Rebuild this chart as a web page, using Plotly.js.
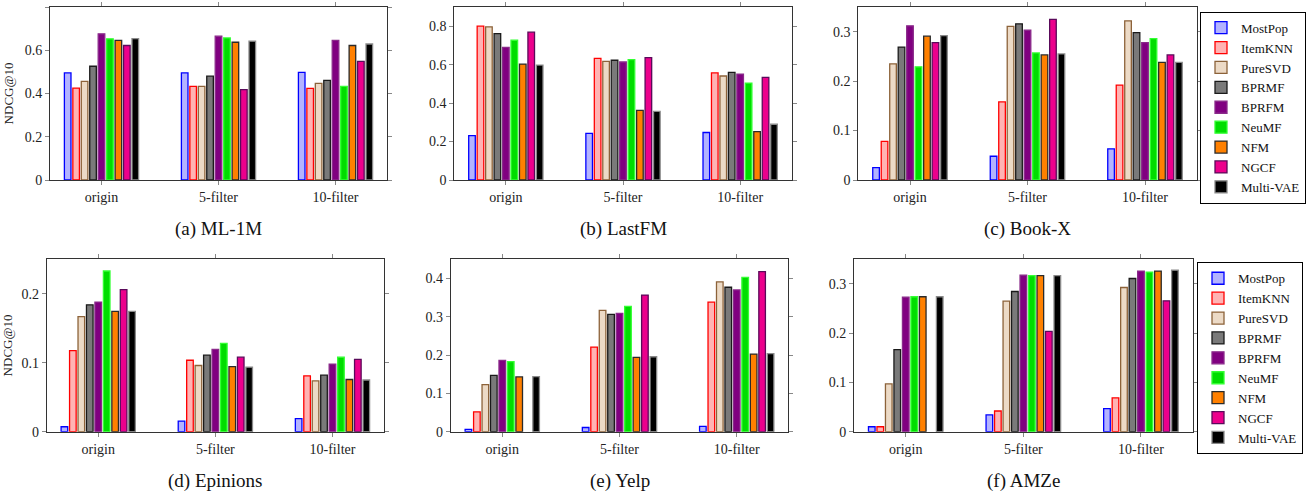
<!DOCTYPE html>
<html>
<head>
<meta charset="utf-8">
<script src="https://cdn.plot.ly/plotly-3.0.1.min.js"></script>
<style>html,body{margin:0;padding:0;background:#fff;}#chart{width:1316px;height:498px;}</style>
</head>
<body>
<div id="chart"></div>
<script>
// Categories and methods
const categories = ["origin", "5-filter", "10-filter"];
const methods = ["MostPop", "ItemKNN", "PureSVD", "BPRMF", "BPRFM", "NeuMF", "NFM", "NGCF", "Multi-VAE"];

// NDCG@10 per method (rows follow methods order), columns follow categories
const ml1m = [
  [0.495, 0.495, 0.498],
  [0.425, 0.433, 0.424],
  [0.456, 0.433, 0.447],
  [0.526, 0.480, 0.461],
  [0.676, 0.665, 0.646],
  [0.653, 0.657, 0.433],
  [0.646, 0.637, 0.622],
  [0.622, 0.418, 0.549],
  [0.654, 0.642, 0.629]
];
const lastfm = [
  [0.231, 0.243, 0.247],
  [0.800, 0.633, 0.557],
  [0.797, 0.617, 0.541],
  [0.762, 0.623, 0.560],
  [0.690, 0.614, 0.551],
  [0.727, 0.626, 0.504],
  [0.603, 0.362, 0.252],
  [0.769, 0.637, 0.534],
  [0.598, 0.357, 0.290]
];
const bookx = [
  [0.025, 0.048, 0.063],
  [0.078, 0.158, 0.192],
  [0.235, 0.311, 0.322],
  [0.269, 0.316, 0.298],
  [0.312, 0.303, 0.278],
  [0.229, 0.257, 0.286],
  [0.291, 0.253, 0.238],
  [0.278, 0.325, 0.253],
  [0.292, 0.255, 0.238]
];
const epinions = [
  [0.0072, 0.0154, 0.019],
  [0.1176, 0.1036, 0.081],
  [0.167, 0.096, 0.0737],
  [0.184, 0.111, 0.082],
  [0.188, 0.1195, 0.098],
  [0.233, 0.128, 0.108],
  [0.1745, 0.0945, 0.0757],
  [0.206, 0.108, 0.105],
  [0.1745, 0.0935, 0.075]
];
const yelp = [
  [0.006, 0.011, 0.014],
  [0.052, 0.221, 0.338],
  [0.123, 0.3165, 0.391],
  [0.147, 0.306, 0.377],
  [0.186, 0.309, 0.370],
  [0.183, 0.327, 0.4026],
  [0.143, 0.194, 0.2026],
  [null, 0.3565, 0.418],
  [0.144, 0.1957, 0.204]
];
const amze = [
  [0.010, 0.034, 0.047],
  [0.010, 0.042, 0.0688],
  [0.097, 0.265, 0.2927],
  [0.1666, 0.2846, 0.311],
  [0.273, 0.3176, 0.326],
  [0.274, 0.317, 0.324],
  [0.274, 0.317, 0.326],
  [null, 0.2036, 0.2657],
  [0.274, 0.317, 0.328]
];

const fills = ["#b3b3ff", "#ffb3b3", "#ecdac6", "#7a7a7a", "#800080", "#00dd00", "#ff8000", "#ec008c", "#000000"];
const lines = ["#0000ff", "#ff0000", "#8c6239", "#1a1a1a", "#8a2a8a", "#33ff33", "#2a2a2a", "#5a0a5a", "#8a8a8a"];

const W = 1316, H = 498;
const panels = [
  {data: ml1m, cap: "(a) ML-1M", x0: 50, x1: 387, y0: 7, y1: 180, yr: [0, 0.8], dt: 0.2, ytitle: true, legend: null},
  {data: lastfm, cap: "(b) LastFM", x0: 454.3, x1: 791.7, y0: 7, y1: 180, yr: [0, 0.9], dt: 0.2, ytitle: false, legend: null},
  {data: bookx, cap: "(c) Book-X", x0: 858.3, x1: 1196.7, y0: 7, y1: 180, yr: [0, 0.35], dt: 0.1, ytitle: false, legend: "legend"},
  {data: epinions, cap: "(d) Epinions", x0: 46.7, x1: 384, y0: 259.3, y1: 431.7, yr: [0, 0.25], dt: 0.1, ytitle: true, legend: null},
  {data: yelp, cap: "(e) Yelp", x0: 450.7, x1: 788.3, y0: 259.3, y1: 431.7, yr: [0, 0.45], dt: 0.1, ytitle: false, legend: null},
  {data: amze, cap: "(f) AMZe", x0: 854, x1: 1192.7, y0: 259.3, y1: 431.7, yr: [0, 0.35], dt: 0.1, ytitle: false, legend: "legend2"}
];

const FONT = "Liberation Serif, DejaVu Serif, serif";
const traces = [];
const layout = {
  width: W, height: H,
  margin: {l: 0, r: 0, t: 0, b: 0, autoexpand: false},
  paper_bgcolor: "#ffffff", plot_bgcolor: "#ffffff",
  barmode: "group", bargap: 0.35, bargroupgap: 0.22,
  font: {family: FONT, size: 14, color: "#222"},
  annotations: [],
  legend: {x: 1306 / W, y: 1 - 11.7 / H, xanchor: "right", yanchor: "top",
    bordercolor: "#000", borderwidth: 1, font: {family: FONT, size: 13, color: "#111"},
    tracegroupgap: 0, itemwidth: 30, bgcolor: "#fff"},
  legend2: {x: 1303 / W, y: 1 - 262.3 / H, xanchor: "right", yanchor: "top",
    bordercolor: "#000", borderwidth: 1, font: {family: FONT, size: 13, color: "#111"},
    tracegroupgap: 0, itemwidth: 30, bgcolor: "#fff"}
};

panels.forEach((p, i) => {
  const n = i + 1;
  const xa = n === 1 ? "xaxis" : "xaxis" + n;
  const ya = n === 1 ? "yaxis" : "yaxis" + n;
  const xr = n === 1 ? "x" : "x" + n;
  const yr = n === 1 ? "y" : "y" + n;
  methods.forEach((m, k) => {
    traces.push({
      type: "bar", name: m, x: categories, y: p.data[k],
      xaxis: xr, yaxis: yr,
      marker: {color: fills[k], line: {color: lines[k], width: 1.3}},
      showlegend: p.legend !== null,
      legend: p.legend || "legend",
      hoverinfo: "x+y+name"
    });
  });
  layout[xa] = {
    domain: [p.x0 / W, p.x1 / W], anchor: yr,
    range: [-0.44, 2.44], type: "category",
    showline: true, mirror: "ticks", linecolor: "#333", linewidth: 1,
    ticks: "outside", ticklen: 4, tickcolor: "#888", tickwidth: 1,
    tickfont: {family: FONT, size: 14, color: "#222"},
    showgrid: false, zeroline: false, fixedrange: true
  };
  layout[ya] = {
    domain: [1 - p.y1 / H, 1 - p.y0 / H], anchor: xr,
    range: p.yr, dtick: p.dt, tick0: 0,
    showline: true, mirror: "ticks", linecolor: "#333", linewidth: 1,
    ticks: "outside", ticklen: 4, tickcolor: "#888", tickwidth: 1,
    tickfont: {family: FONT, size: 14, color: "#222"},
    showgrid: false, zeroline: false, fixedrange: true,
    title: p.ytitle ? {text: "NDCG@10", font: {family: FONT, size: 13, color: "#222"}, standoff: 8} : {text: ""}
  };
  layout.annotations.push({
    text: p.cap, xref: "paper", yref: "paper",
    x: (p.x0 + p.x1) / 2 / W, y: 1 - (p.y1 + 49) / H,
    xanchor: "center", yanchor: "middle", showarrow: false,
    font: {family: FONT, size: 19, color: "#111"}
  });
});

Plotly.newPlot("chart", traces, layout, {displayModeBar: false, staticPlot: true});
</script>
</body>
</html>
